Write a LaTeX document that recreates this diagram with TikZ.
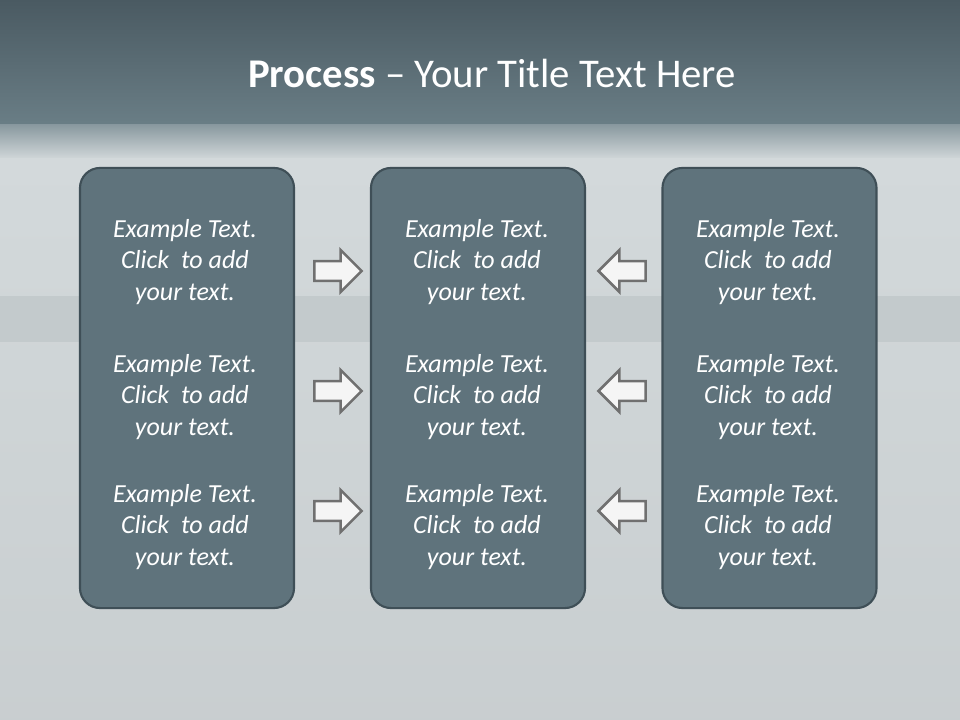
\documentclass[tikz,border=0pt]{standalone}
\usepackage{fontspec}
\setmainfont{Carlito}
\usepackage{tikz}
\usetikzlibrary{positioning,shapes.arrows}
\definecolor{bgtop}{HTML}{4A5A62}
\definecolor{bgmid}{HTML}{6A7E86}
\definecolor{bglight}{HTML}{D3D9DB}
\definecolor{bgband}{HTML}{C3CACC}
\definecolor{panelfill}{HTML}{5F737C}
\definecolor{panelline}{HTML}{3F4F57}
\definecolor{arrowline}{HTML}{707070}

\begin{document}
\begin{tikzpicture}[
  x=0.025cm, y=-0.025cm,
  font=\fontsize{18.5}{22.7}\selectfont,
  panel/.style={rounded corners=0.5cm, draw=panelline, line width=1.5pt, fill=panelfill,
    minimum width=5.35cm, minimum height=11cm},
  txt/.style={text=white, align=center, font=\fontsize{18.5}{22.7}\selectfont\itshape},
  rarrow/.style={single arrow, draw=arrowline, line width=1.8pt, fill=white!96!black,
    minimum width=1.05cm, minimum height=1.18cm, inner sep=0.19cm},
  larrow/.style={rarrow, shape border rotate=180}
]
\useasboundingbox (0,0) rectangle (960,720);

% ================= Background =================
\fill[top color=bgtop, bottom color=bgmid] (0,0) rectangle (960,126);
\fill[top color=bgmid!70!bglight, bottom color=bglight] (0,125) rectangle (960,160);
\fill[top color=bglight, bottom color=bglight!95!black] (0,159) rectangle (960,720);
\fill[bgband] (0,296) rectangle (960,342);

% ================= Title =================
\node[anchor=base, text=white, font=\fontsize{29}{35}\selectfont] (title) at (492,88)
  {\textbf{Process} -- Your Title Text Here};

% ================= Panels =================
\node[panel] (left) at (187,388) {};
\node[panel] (middle) at (478,388) {};
\node[panel] (right) at (769.5,388) {};

% ================= Texts =================
\node[txt] (l1) at (185,262) {Example Text.\\Click\ \ to add\\your text.};
\node[txt] (l2) at (185,397) {Example Text.\\Click\ \ to add\\your text.};
\node[txt] (l3) at (185,527) {Example Text.\\Click\ \ to add\\your text.};
\node[txt] (m1) at (477,262) {Example Text.\\Click\ \ to add\\your text.};
\node[txt] (m2) at (477,397) {Example Text.\\Click\ \ to add\\your text.};
\node[txt] (m3) at (477,527) {Example Text.\\Click\ \ to add\\your text.};
\node[txt] (r1) at (768,262) {Example Text.\\Click\ \ to add\\your text.};
\node[txt] (r2) at (768,397) {Example Text.\\Click\ \ to add\\your text.};
\node[txt] (r3) at (768,527) {Example Text.\\Click\ \ to add\\your text.};

% ================= Arrows =================
\node[rarrow] (ra1) at (333,271) {};
\node[rarrow] (ra2) at (333,391) {};
\node[rarrow] (ra3) at (333,511) {};
\node[larrow] (la1) at (627,271) {};
\node[larrow] (la2) at (627,391) {};
\node[larrow] (la3) at (627,511) {};

\end{tikzpicture}
\end{document}
